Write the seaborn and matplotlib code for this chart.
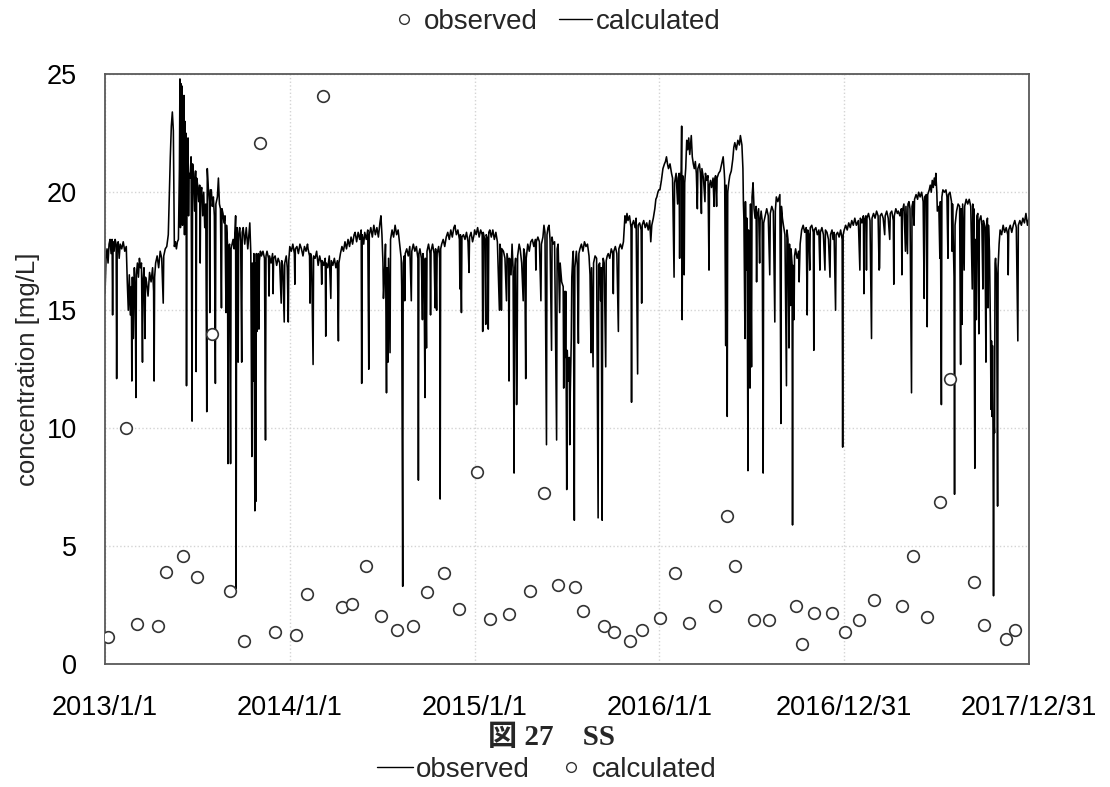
import matplotlib
matplotlib.use("Agg")
import matplotlib.pyplot as plt
from matplotlib.lines import Line2D
import seaborn as sns
import pandas as pd

# ---------------- data ----------------
start_date = "2013-01-01"
end_date = "2017-12-31"

# observed (monthly samples): day offset from 2013-01-01, value [mg/L]
obs_days = [6, 41, 63, 105, 120, 154, 182, 211, 247, 275, 306, 336, 377, 399, 431,
            468, 488, 516, 545, 577, 609, 636, 670, 700, 735, 761, 798, 840, 868,
            895, 929, 945, 986, 1006, 1036, 1061, 1097, 1126, 1154, 1204, 1229, 1245,
            1281, 1312, 1364, 1377, 1401, 1435, 1462, 1490, 1518, 1575, 1595, 1623,
            1650, 1670, 1717, 1737, 1779, 1798]
obs_vals = [1.14, 10.0, 1.7, 1.6, 3.9, 4.6, 3.7, 14.0, 3.1, 1.0, 22.1, 1.36, 1.23, 2.97, 24.07,
            2.42, 2.54, 4.15, 2.03, 1.44, 1.61, 3.05, 3.86, 2.33, 8.14, 1.9, 2.12, 3.09, 7.25,
            3.35, 3.26, 2.25, 1.6, 1.36, 0.97, 1.44, 1.95, 3.86, 1.74, 2.46, 6.27, 4.15,
            1.86, 1.86, 2.46, 0.85, 2.16, 2.16, 1.36, 1.86, 2.71, 2.46, 4.58, 1.99,
            6.86, 12.08, 3.47, 1.65, 1.06, 1.44]

# calculated (daily model output, read at key points): (day offset, value)
calc_2013 = [(0,15.7),(2,17.2),(4,17.6),(6,17.0),(8,17.8),(10,18.0),(12,17.4),(14,18.0),(15,14.8),(16,17.9),
    (18,17.5),(20,18.0),(22,17.8),(23,12.1),(24,17.6),(26,17.9),(28,17.2),(30,17.8),(33,17.6),(36,17.9),
    (39,17.5),(42,17.7),(44,16.2),(46,15.0),(48,16.5),(50,14.8),(52,16.0),(53,12.0),(54,16.4),(56,13.8),
    (58,16.8),(60,15.2),(61,11.3),(62,16.5),(64,17.0),(66,16.4),(68,17.2),(70,16.8),(72,17.0),(74,12.8),
    (75,16.2),(77,16.8),(79,13.8),(80,16.4),(82,16.2),(85,15.6),(88,16.6),(91,16.2),(94,16.8),(96,15.8),
    (97,12.0),(98,16.4),(100,17.0),(103,17.3),(106,16.8),(109,17.5),(112,17.2),(115,15.3),(116,17.3),
    (119,17.6),(122,17.7),(125,18.2),(127,19.9),(129,21.5),(131,22.8),(133,23.4),(135,22.6),(137,17.7),
    (139,17.9),(141,17.6),(143,17.9),(145,18.0),(147,21.0),(148,24.8),(149,18.5),(150,24.6),(151,20.0),
    (152,24.5),(153,18.6),(154,23.8),(155,19.4),(156,24.1),(157,18.2),(158,23.0),(159,20.2),(160,22.5),
    (161,11.8),(162,21.0),(164,22.3),(165,19.0),(166,20.8),(168,20.6),(170,21.5),(172,10.3),(173,21.2),
    (175,20.8),(177,19.2),(179,20.9),(180,12.4),(181,20.6),(183,20.3),(185,19.6),(187,20.3),(188,17.0),
    (189,20.0),(191,20.2),(193,19.0),(195,20.0),(197,18.5),(199,19.5),(201,10.7),(202,21.0),(204,20.2),
    (206,19.6),(207,14.9),(208,20.1),(210,20.1),(212,19.4),(214,19.8),(216,19.0),(218,11.9),(219,19.5),
    (222,19.8),(224,20.6),(226,19.5),(228,19.3),(230,15.1),(231,19.3),(233,19.1),(235,18.7),(237,19.0),
    (239,14.9),(240,18.6),(242,17.8),(243,8.5),(244,17.6),(246,17.8),(248,8.5),(249,17.6),(251,17.8),
    (253,18.0),(255,17.6),(257,18.4),(258,19.0),(259,3.2),(260,18.3),(261,18.5),(263,12.8),(264,18.2),
    (266,18.5),(268,17.9),(270,12.8),(271,18.3),(273,18.5),(276,17.8),(279,18.5),(282,17.6),(285,18.4),
    (286,18.7),(288,17.4),(290,8.8),(291,17.0),(293,12.0),(294,17.4),(296,6.5),(297,17.0),(298,6.9),
    (299,17.4),(300,14.1),(301,17.2),(303,17.4),(304,14.2),(305,17.1),(307,17.5),(309,17.3),(312,17.5),
    (315,17.2),(317,9.5),(318,17.3),(320,17.5),(323,17.2),(324,15.6),(325,17.3),(328,17.0),(331,17.4),
    (332,15.7),(333,17.2),(336,17.3),(339,16.9),(342,17.2),(345,17.0),(348,15.3),(349,17.1),(351,16.9),
    (354,14.5),(355,17.0),(358,17.3),(360,16.8),(362,14.5),(363,17.1)]

calc_2014 = [(365,17.7),(368,17.5),(371,17.8),(374,17.4),(375,16.1),(376,17.6),(379,17.7),(382,17.4),
    (385,17.8),(388,17.6),(391,17.3),(394,17.7),(397,17.5),(400,17.8),(401,17.6),(404,17.3),(405,15.3),
    (406,17.4),(408,17.2),(411,12.7),(412,17.3),(415,17.2),(418,17.5),(421,16.9),(424,17.3),(427,17.0),
    (428,16.1),(429,17.1),(432,16.9),(435,17.2),(436,13.9),(437,17.0),(440,16.8),(443,17.3),(446,15.5),
    (447,17.1),(450,16.9),(453,17.2),(456,16.8),(459,17.1),(461,13.7),(462,17.0),(465,17.4),(468,17.7),
    (471,17.5),(474,17.9),(477,17.6),(480,18.0),(483,17.7),(486,18.1),(489,17.8),(492,18.2),(494,18.3),
    (497,17.9),(500,18.3),(503,18.0),(506,18.4),(507,11.9),(508,18.2),(511,17.8),(513,18.3),(516,18.0),
    (519,18.4),(521,12.5),(522,18.2),(525,18.5),(528,18.1),(531,18.6),(534,18.2),(537,18.5),(540,18.1),
    (543,18.7),(545,19.0),(547,18.2),(549,17.0),(550,15.5),(552,16.5),(554,17.8),(556,11.5),(557,16.8),
    (559,12.8),(560,17.2),(563,13.2),(564,18.0),(567,18.4),(570,18.1),(573,18.6),(576,18.2),(579,18.4),
    (582,17.8),(585,17.2),(586,16.0),(588,3.3),(589,17.0),(591,17.3),(592,15.4),(593,17.4),(596,17.6),
    (599,17.3),(602,17.7),(605,15.4),(606,17.5),(609,17.8),(612,17.5),(615,17.7),(618,17.2),(619,7.8),
    (620,17.4),(622,17.6),(625,17.2),(627,14.6),(628,17.4),(630,17.0),(632,11.3),(633,17.2),(635,13.4),
    (636,17.5),(639,17.8),(642,17.4),(643,14.8),(644,17.5),(647,17.8),(650,17.4),(652,15.1),(653,17.6),
    (655,15.0),(656,17.4),(659,17.7),(661,17.2),(662,7.0),(663,17.6),(665,17.8),(668,18.0),(671,17.7),
    (674,18.1),(677,18.3),(680,18.0),(683,18.4),(686,18.1),(689,18.5),(691,18.6),(694,18.2),(697,18.4),
    (700,18.0),(701,15.9),(702,18.2),(704,14.9),(705,18.1),(708,18.2),(711,18.0),(714,18.3),(717,17.9),
    (719,16.6),(720,18.1),(723,18.3),(726,17.9),(729,18.2)]

calc_2015 = [(730,18.4),(733,18.2),(736,18.5),(739,18.1),(742,18.4),(745,18.2),(746,14.1),(747,18.3),
    (750,18.0),(752,14.4),(753,18.2),(756,18.0),(757,14.2),(758,18.3),(760,18.4),(763,18.1),(766,18.4),
    (769,18.0),(772,18.3),(775,17.9),(779,15.0),(780,17.8),(782,17.5),(783,15.0),(784,17.6),(787,17.5),
    (790,17.2),(793,15.4),(794,17.4),(797,17.0),(798,12.0),(799,17.2),(802,16.5),(804,17.8),(806,16.8),
    (808,8.1),(809,16.6),(811,17.2),(813,11.0),(814,12.8),(815,17.3),(818,17.8),(820,17.6),(823,17.0),
    (826,15.4),(827,17.6),(829,17.4),(831,12.1),(832,17.2),(835,17.8),(838,17.5),(841,17.9),(844,18.0),
    (847,17.7),(850,18.0),(851,16.7),(852,17.9),(855,18.1),(858,17.9),(861,15.4),(862,17.8),(865,18.1),
    (867,18.6),(869,18.3),(872,9.3),(873,18.2),(875,18.5),(877,18.6),(879,18.0),(882,13.3),(883,18.1),
    (885,17.8),(888,17.9),(892,9.5),(893,17.6),(895,17.8),(898,14.9),(899,17.0),(902,16.2),(905,16.0),
    (906,11.7),(907,15.8),(909,13.0),(910,15.8),(912,7.4),(913,13.3),(915,12.0),(917,13.0),(918,9.3),
    (919,11.5),(921,13.8),(922,16.4),(924,17.3),(925,17.5),(927,6.1),(928,16.8),(931,17.5),(933,16.9),
    (935,13.6),(936,17.4),(938,17.6),(941,17.8),(944,17.5),(947,17.9),(950,17.7),(953,17.8),(956,17.3),
    (958,16.5),(960,13.2),(961,16.8),(964,12.6),(965,17.0),(968,17.3),(971,17.2),(974,6.2),(975,16.9),
    (977,17.0),(979,15.4),(980,16.8),(982,6.1),(983,16.7),(984,17.2),(986,17.0),(989,12.6),(990,17.1),
    (992,17.3),(994,17.4),(997,17.2),(1000,17.6),(1003,17.4),(1004,15.7),(1005,17.5),(1008,17.7),
    (1011,17.4),(1014,14.1),(1015,17.6),(1018,17.8),(1021,17.6),(1024,17.9),(1027,19.0),(1029,18.7),
    (1031,19.1),(1033,18.8),(1036,19.0),(1039,18.5),(1040,11.1),(1041,18.6),(1044,18.8),(1047,18.5),
    (1049,18.9),(1052,12.3),(1053,18.6),(1056,18.7),(1059,18.4),(1060,15.3),(1061,18.6),(1064,18.8),
    (1067,18.5),(1070,18.7),(1073,18.4),(1076,18.8),(1078,17.9),(1080,18.6),(1083,18.9),(1086,19.3),
    (1088,19.7),(1090,19.8),(1092,20.0),(1094,20.1)]

calc_2016 = [(1096,20.1),(1099,20.5),(1102,21.0),(1105,21.2),(1107,21.3),(1109,21.5),(1111,21.2),
    (1113,21.0),(1116,21.2),(1119,20.8),(1121,20.6),(1124,16.4),(1125,20.4),(1128,20.8),(1131,19.5),
    (1132,20.6),(1134,20.8),(1135,17.2),(1136,20.5),(1138,20.9),(1139,22.8),(1140,14.6),(1141,20.7),
    (1143,19.4),(1144,16.5),(1145,20.4),(1147,21.0),(1149,22.2),(1151,21.8),(1153,22.3),(1155,21.6),
    (1157,22.1),(1158,22.4),(1160,21.5),(1162,21.2),(1164,21.0),(1166,21.3),(1168,20.8),(1170,19.3),
    (1171,21.0),(1174,21.2),(1176,20.8),(1178,19.1),(1179,21.0),(1182,20.6),(1185,19.6),(1186,20.8),
    (1188,20.5),(1191,20.7),(1193,16.7),(1194,20.3),(1196,20.5),(1198,20.2),(1201,20.6),(1203,19.4),
    (1204,20.5),(1206,20.7),(1208,19.4),(1209,20.6),(1212,20.8),(1215,20.9),(1218,21.2),(1221,21.5),
    (1223,20.9),(1224,20.5),(1226,13.5),(1227,20.3),(1229,10.5),(1230,20.0),(1232,20.4),(1234,20.7),
    (1237,20.9),(1240,21.4),(1242,21.9),(1244,22.1),(1247,21.8),(1250,22.2),(1253,22.0),(1255,22.4),
    (1258,22.0),(1260,21.0),(1261,19.5),(1262,18.8),(1264,13.8),(1265,19.6),(1267,16.7),(1268,18.9),
    (1270,8.2),(1271,18.4),(1273,12.0),(1274,11.7),(1275,19.5),(1277,12.6),(1278,19.8),(1280,20.4),
    (1282,19.3),(1284,18.9),(1286,19.4),(1287,16.2),(1288,19.0),(1291,19.3),(1293,17.0),(1294,18.8),
    (1296,19.2),(1298,18.8),(1300,8.1),(1301,18.7),(1304,19.0),(1307,19.3),(1310,19.0),(1313,16.5),
    (1314,19.1),(1317,19.4),(1320,19.2),(1323,14.5),(1324,19.2),(1326,19.8),(1329,19.6),(1333,19.9),
    (1335,10.2),(1336,19.4),(1338,18.9),(1340,18.6),(1343,18.2),(1346,11.8),(1347,18.4),(1349,18.0),
    (1351,13.4),(1352,17.8),(1354,15.2),(1355,17.6),(1357,17.0),(1358,5.9),(1359,16.9),(1361,14.6),
    (1362,17.3),(1364,17.6),(1367,17.2),(1370,17.5),(1371,16.2),(1373,17.8),(1376,18.4),(1379,18.6),
    (1382,18.3),(1385,18.5),(1387,14.8),(1388,18.4),(1390,18.2),(1392,16.7),(1393,18.5),(1396,18.6),
    (1399,18.3),(1400,13.3),(1401,18.4),(1404,18.5),(1407,18.2),(1410,18.4),(1412,16.7),(1413,18.3),
    (1416,18.5),(1419,18.2),(1422,16.7),(1423,18.4),(1426,18.3),(1429,18.0),(1432,16.4),(1433,18.2),
    (1436,18.4),(1438,18.0),(1440,18.3),(1443,15.0),(1444,18.2),(1447,18.3),(1450,18.1),(1453,18.4),
    (1456,18.0),(1457,9.2),(1458,18.2),(1460,18.4)]

calc_2017 = [(1463,18.6),(1466,18.4),(1469,18.7),(1472,18.5),(1475,18.8),(1478,18.6),(1481,18.9),
    (1484,18.6),(1488,18.8),(1491,16.7),(1492,18.9),(1495,18.7),(1498,19.0),(1499,15.7),(1500,18.8),
    (1503,19.0),(1504,16.7),(1505,18.9),(1508,19.1),(1511,18.8),(1514,13.8),(1515,18.9),(1518,19.1),
    (1521,18.9),(1524,19.2),(1527,19.0),(1529,16.7),(1530,16.8),(1531,19.0),(1534,19.1),(1537,18.9),
    (1540,18.2),(1541,19.0),(1544,19.2),(1547,18.9),(1550,18.0),(1551,19.1),(1554,19.2),(1557,18.8),
    (1558,16.1),(1559,19.0),(1562,19.3),(1565,19.1),(1567,19.2),(1570,19.0),(1573,19.3),(1574,16.5),
    (1575,19.2),(1578,19.5),(1581,17.5),(1582,19.4),(1585,17.4),(1586,19.5),(1588,19.6),(1590,19.3),
    (1593,11.5),(1594,19.4),(1596,19.6),(1598,18.6),(1599,19.7),(1602,19.9),(1605,19.7),(1607,20.0),
    (1610,19.8),(1613,20.0),(1616,19.6),(1618,15.5),(1619,19.8),(1622,19.9),(1624,14.3),(1625,19.9),
    (1628,20.1),(1630,20.3),(1632,20.0),(1634,20.5),(1636,20.2),(1638,20.6),(1640,20.3),(1641,20.8),
    (1643,20.0),(1644,19.2),(1647,19.4),(1649,17.2),(1650,19.6),(1652,11.0),(1653,19.8),(1655,20.1),
    (1658,20.0),(1661,20.1),(1663,19.8),(1665,17.2),(1666,19.9),(1669,20.0),(1672,19.6),(1673,17.5),
    (1674,19.5),(1677,16.4),(1678,7.2),(1679,18.6),(1682,19.2),(1685,19.5),(1688,19.4),(1690,12.7),
    (1691,19.3),(1693,14.4),(1694,19.5),(1697,16.7),(1698,19.4),(1701,19.7),(1704,19.5),(1707,19.7),
    (1710,19.4),(1713,15.9),(1714,19.5),(1715,17.5),(1716,19.3),(1718,8.3),(1719,18.0),(1721,14.6),
    (1722,19.0),(1724,19.1),(1726,14.0),(1727,18.8),(1730,19.0),(1732,18.6),(1734,15.9),(1735,18.8),
    (1738,18.5),(1740,12.8),(1741,18.6),(1743,18.9),(1744,15.1),(1745,18.6),(1747,17.5),(1749,14.0),
    (1750,10.8),(1751,13.7),(1752,10.5),(1753,13.5),(1754,10.0),(1755,2.9),(1756,10.2),(1757,9.8),
    (1758,17.0),(1759,17.2),(1761,16.5),(1763,6.7),(1764,16.8),(1766,17.8),(1768,18.4),(1771,18.2),
    (1774,18.6),(1777,18.3),(1780,18.5),(1783,18.2),(1784,16.5),(1785,18.4),(1788,18.6),(1791,18.3),
    (1794,18.6),(1797,18.8),(1800,18.5),(1803,13.7),(1804,18.6),(1807,18.8),(1810,18.6),(1813,18.9),
    (1816,18.7),(1819,19.1),(1822,18.6),(1825,18.9)]

tick_dates = ["2013-01-01", "2014-01-01", "2015-01-01", "2016-01-01", "2016-12-31", "2017-12-31"]
tick_labels = ["2013/1/1", "2014/1/1", "2015/1/1", "2016/1/1", "2016/12/31", "2017/12/31"]
y_ticks = [0, 5, 10, 15, 20, 25]

# ---------------- build frames ----------------
t0 = pd.Timestamp(start_date)
calc_df = pd.DataFrame(calc_2013 + calc_2014 + calc_2015 + calc_2016 + calc_2017,
                       columns=["day", "value"])
calc_df["date"] = t0 + pd.to_timedelta(calc_df["day"], unit="D")
obs_df = pd.DataFrame({"day": obs_days, "value": obs_vals})
obs_df["date"] = t0 + pd.to_timedelta(obs_df["day"], unit="D")

# ---------------- plot ----------------
sns.set_theme(style="white")
plt.rcParams["font.family"] = ["Liberation Sans", "Noto Sans CJK JP", "DejaVu Sans"]

fig = plt.figure(figsize=(11.1, 7.87), dpi=100)
ax = fig.add_axes([0.0946, 0.156, 0.8324, 0.7497])

sns.lineplot(data=calc_df, x="date", y="value", ax=ax, color="black", linewidth=1.15,
             estimator=None, sort=False, legend=False, zorder=2)
sns.scatterplot(data=obs_df, x="date", y="value", ax=ax, s=70, facecolor="white",
                edgecolor="#333333", linewidth=1.2, legend=False, zorder=3)

ax.set_xlim(t0, pd.Timestamp(end_date))
ax.set_ylim(0, 25)
ax.set_yticks(y_ticks)
ax.set_yticklabels([str(v) for v in y_ticks])
ax.set_xticks(pd.to_datetime(tick_dates))
ax.set_xticklabels(tick_labels)
ax.grid(True, color="#d4d4d4", linestyle=":", linewidth=1.0)
ax.set_axisbelow(True)
for sp in ax.spines.values():
    sp.set_color("#595959")
    sp.set_linewidth(1.3)
ax.tick_params(axis="both", length=0, labelsize=19.5, colors="black")
ax.tick_params(axis="x", pad=22)
ax.tick_params(axis="y", pad=20)
ax.set_xlabel("")
ax.set_ylabel("concentration [mg/L]", fontsize=18.5, labelpad=5)

# top legend
top_handles = [Line2D([], [], marker="o", linestyle="", markerfacecolor="white",
                      markeredgecolor="#333333", markersize=7, markeredgewidth=1.0),
               Line2D([], [], color="black", linewidth=1.0)]
fig.legend(top_handles, ["observed", "calculated"], loc="center",
           bbox_to_anchor=(0.499, 0.972), ncol=2, frameon=False, fontsize=20,
           handlelength=1.2, handletextpad=0.12, columnspacing=0.75)

# caption
fig.text(0.497, 0.063, "図 27\u3000SS", ha="center", va="center", fontsize=21,
         fontweight="bold", family=["Liberation Serif", "Noto Sans CJK JP"])

# bottom legend
bot_handles = [Line2D([], [], color="black", linewidth=1.0),
               Line2D([], [], marker="o", linestyle="", markerfacecolor="white",
                      markeredgecolor="#333333", markersize=7, markeredgewidth=1.0)]
fig.legend(bot_handles, ["observed", "calculated"], loc="center",
           bbox_to_anchor=(0.4925, 0.022), ncol=2, frameon=False, fontsize=20,
           handlelength=1.3, handletextpad=0.1, columnspacing=0.85)

fig.savefig("out.png", dpi=100)
